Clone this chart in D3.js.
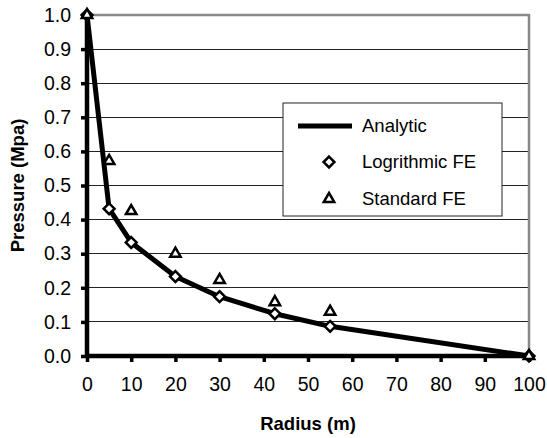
<!DOCTYPE html>
<html><head><meta charset="utf-8">
<script src="https://cdn.jsdelivr.net/npm/d3@7"></script>
<style>
body{margin:0;background:#fff;}
text{font-family:"Liberation Sans",Arial,sans-serif;fill:#000;}
</style></head>
<body><svg id="c" width="547" height="438"></svg>
<script>
const radius = [0, 5, 10, 20, 30, 42.5, 55, 100];
const analytic = [1.0, 0.432, 0.333, 0.233, 0.174, 0.124, 0.087, 0.0];
const logFE = [1.0, 0.432, 0.333, 0.233, 0.174, 0.124, 0.087, 0.0];
const stdFE = [1.0, 0.572, 0.425, 0.300, 0.223, 0.158, 0.130, 0.0];
const xTicks = [0,10,20,30,40,50,60,70,80,90,100];
const yTicks = [0,0.1,0.2,0.3,0.4,0.5,0.6,0.7,0.8,0.9,1.0];
const legendLabels = ["Analytic","Logrithmic FE","Standard FE"];

const svg = d3.select("#c");
const L=87, R=529, T=15, B=356;
const x = d3.scaleLinear().domain([0,100]).range([L,R]);
const y = d3.scaleLinear().domain([0,1]).range([B,T]);

// gridlines
svg.append("g").selectAll("line").data(yTicks.filter(v=>v>0&&v<1)).join("line")
  .attr("x1",L).attr("x2",R).attr("y1",d=>y(d)).attr("y2",d=>y(d))
  .attr("stroke","#222").attr("stroke-width",1).attr("shape-rendering","crispEdges");
// top and right border
svg.append("path").attr("d",`M${L},${y(1)}H${R}V${B}`).attr("fill","none")
  .attr("stroke","#888").attr("stroke-width",2.5);

// axes
const xAxis = d3.axisBottom(x).tickValues(xTicks).tickSize(6).tickPadding(15).tickFormat(d3.format("d"));
const gx = svg.append("g").attr("transform",`translate(0,${B})`).call(xAxis);
const yAxis = d3.axisLeft(y).tickValues(yTicks).tickSize(6).tickPadding(10).tickFormat(d3.format(".1f"));
const gy = svg.append("g").attr("transform",`translate(${L},0)`).call(yAxis);
[gx,gy].forEach(g=>{
  g.select(".domain").attr("stroke","#000").attr("stroke-width",4.5);
  g.selectAll(".tick line").attr("stroke","#000").attr("stroke-width",3.5);
  g.selectAll(".tick text").attr("font-size",19.5).attr("font-family","Liberation Sans, Arial, sans-serif").attr("fill","#000");
});
gy.select(".domain").attr("d",`M0,${B}V${T}`);
gx.select(".domain").attr("d",`M${L},0H${R}`);

// analytic line
const pts = radius.map((r,i)=>[r,analytic[i]]);
svg.append("path").datum(pts)
  .attr("d",d3.line().x(d=>x(d[0])).y(d=>y(d[1])))
  .attr("fill","none").attr("stroke","#000").attr("stroke-width",5).attr("stroke-linejoin","round");

const diamond = d3.symbol().type(d3.symbolDiamond2).size(75);
const tri = d3.symbol().type(d3.symbolTriangle2).size(78);
function drawMarks(vals, sym){
  svg.append("g").selectAll("path").data(radius.map((r,i)=>[r,vals[i]])).join("path")
    .attr("transform",d=>`translate(${x(d[0])},${y(d[1])})`)
    .attr("d",sym).attr("fill","#fff").attr("stroke","#000").attr("stroke-width",2.5).attr("stroke-linejoin","miter");
}
drawMarks(logFE, diamond);
drawMarks(stdFE, tri);

// axis titles
svg.append("text").attr("x",(L+R)/2).attr("y",430).attr("text-anchor","middle")
  .attr("font-size",18.5).attr("font-weight","bold").text("Radius (m)");
svg.append("text").attr("transform",`translate(24,${(T+B)/2}) rotate(-90)`).attr("text-anchor","middle")
  .attr("font-size",18.5).attr("font-weight","bold").text("Pressure (Mpa)");

// legend
const lg = svg.append("g");
lg.append("rect").attr("x",283).attr("y",103).attr("width",219).attr("height",113)
  .attr("fill","#fff").attr("stroke","#222").attr("stroke-width",1);
const ly = [126,162,199];
lg.append("line").attr("x1",298).attr("x2",352).attr("y1",ly[0]).attr("y2",ly[0])
  .attr("stroke","#000").attr("stroke-width",5);
lg.append("path").attr("transform",`translate(329,${ly[1]})`).attr("d",diamond).attr("fill","#fff").attr("stroke","#000").attr("stroke-width",2.5);
lg.append("path").attr("transform",`translate(329,${ly[2]})`).attr("d",tri).attr("fill","#fff").attr("stroke","#000").attr("stroke-width",2.5);
lg.selectAll("text").data(legendLabels).join("text")
  .attr("x",362).attr("y",(d,i)=>ly[i]).attr("dy","0.35em").attr("font-size",18.5).text(d=>d);
</script></body></html>
